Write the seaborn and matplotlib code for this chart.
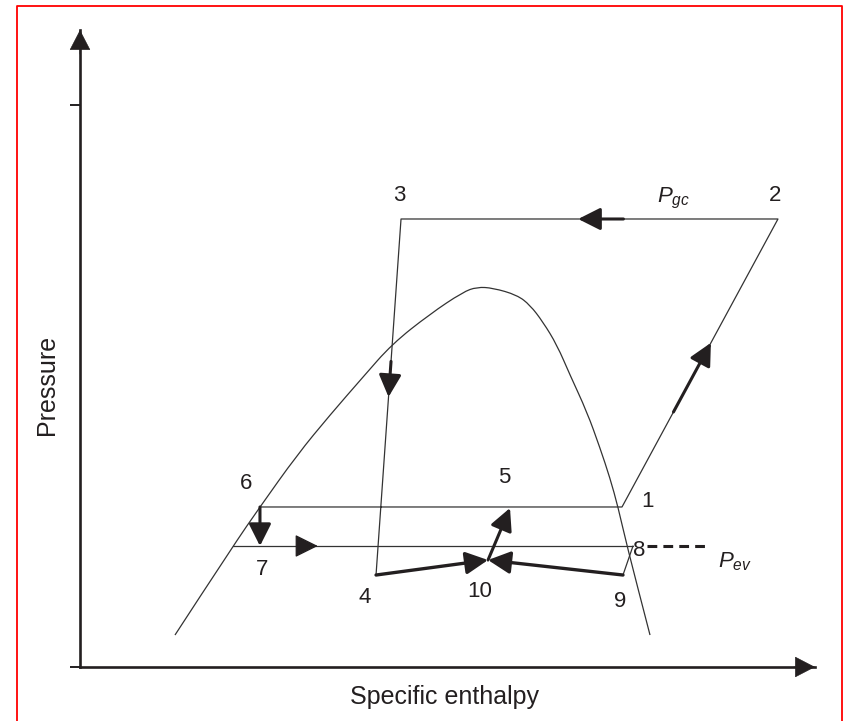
import numpy as np
import matplotlib
matplotlib.use("Agg")
import matplotlib.pyplot as plt
from matplotlib.lines import Line2D
from matplotlib.path import Path
from matplotlib.patches import PathPatch
import seaborn as sns

# ---- data: schematic transcritical CO2 cycle on a P-h chart (arbitrary units) ----
# saturation dome (liquid branch -> critical region -> vapour branch)
h_sat = [13.57, 21.86, 25.71, 31.0, 35.71, 40.43, 44.57, 50.0, 54.71, 56.71, 59.0,
         62.43, 64.29, 66.14, 68.14, 70.0, 72.43, 74.29, 75.71, 76.86, 78.14, 81.43]
P_sat = [5.33, 20.17, 26.67, 35.33, 42.0, 48.33, 53.83, 58.83, 62.5, 63.33, 63.17,
         62.0, 60.33, 57.5, 53.67, 48.67, 42.5, 36.5, 31.5, 26.67, 20.17, 5.33]

# cycle state points 1..10
state_labels = ["1", "2", "3", "4", "5", "6", "7", "8", "9", "10"]
state_h = [77.43, 99.71, 45.86, 42.29, 61.43, 25.71, 25.71, 79.0, 77.57, 58.29]
state_P = [26.67, 74.67, 74.67, 15.33, 26.5, 26.67, 20.17, 20.17, 15.33, 17.83]

# evaporator pressure line starts where it meets the liquid branch
h_ev_start = 21.86
h_ev_dash_end = 89.3

x_label = "Specific enthalpy"
y_label = "Pressure"

INK = "#231f20"
THIN = "#333333"

sns.set_theme(style="white")
plt.rcParams["font.family"] = ["Liberation Sans", "DejaVu Sans"]
plt.rcParams["mathtext.fontset"] = "custom"
plt.rcParams["mathtext.it"] = "Liberation Sans:italic"
plt.rcParams["mathtext.rm"] = "Liberation Sans"

W, H = 844, 721
fig = plt.figure(figsize=(W / 100, H / 100), dpi=100)
ax = fig.add_axes([80 / W, 54 / H, 735 / W, 637 / H])
XMAX, YMAX = 105.0, 106.17
ax.set_xlim(0, XMAX)
ax.set_ylim(0, YMAX)
ax.patch.set_alpha(0)

for side in ("top", "right"):
    ax.spines[side].set_visible(False)
for side in ("left", "bottom"):
    ax.spines[side].set_linewidth(1.9)
    ax.spines[side].set_color(INK)
ax.set_xticks([])
ax.set_yticks([0, 93.67])
ax.set_yticklabels([])
ax.tick_params(axis="y", direction="out", length=7.5, width=1.4, color=INK, left=True)

# axis arrowheads
head = dict(arrowstyle="-|>,head_length=1.35,head_width=0.7", color=INK, lw=0.5,
            shrinkA=0, shrinkB=0, mutation_scale=10)
ax.annotate("", xy=(0, YMAX), xytext=(0, YMAX - 4), arrowprops=head, annotation_clip=False)
ax.annotate("", xy=(XMAX, 0), xytext=(XMAX - 3, 0), arrowprops=head, annotation_clip=False)

S = {lab: (h, p) for lab, h, p in zip(state_labels, state_h, state_P)}

# saturation dome, drawn as a smooth quadratic path through the points
pts = np.column_stack([h_sat, P_sat])
verts = [pts[0]]
codes = [Path.MOVETO]
for i in range(1, len(pts) - 1):
    verts += [pts[i], (pts[i] + pts[i + 1]) / 2]
    codes += [Path.CURVE3, Path.CURVE3]
verts.append(pts[-1])
codes.append(Path.LINETO)
ax.add_patch(PathPatch(Path(verts, codes), fill=False, edgecolor=THIN, lw=0.9))

# thin cycle lines
path = ["6", "1", "2", "3", "4"]
sns.lineplot(x=[S[k][0] for k in path], y=[S[k][1] for k in path], sort=False,
             estimator=None, ax=ax, color=THIN, lw=0.9)
sns.lineplot(x=[h_ev_start, S["8"][0]], y=[S["7"][1], S["8"][1]], sort=False,
             estimator=None, ax=ax, color=THIN, lw=0.9)
sns.lineplot(x=[S["9"][0], S["8"][0]], y=[S["9"][1], S["8"][1]], sort=False,
             estimator=None, ax=ax, color=THIN, lw=0.9)
# evaporator pressure marker
ax.plot([S["8"][0] + 2.0, h_ev_dash_end], [S["8"][1], S["8"][1]], color=INK, lw=2.2,
        linestyle=(0, (3.2, 2.0)), solid_capstyle="butt", dash_capstyle="butt")


def flow_arrow(a, b, f0=0.0, f1=1.0, lw=2.2, hl=1.35, hw=0.68):
    """Thick arrow along segment a->b, between fractions f0 and f1."""
    a = np.asarray(a, float)
    b = np.asarray(b, float)
    p0 = a + (b - a) * f0
    p1 = a + (b - a) * f1
    ax.annotate("", xy=tuple(p1), xytext=tuple(p0),
                arrowprops=dict(arrowstyle=f"-|>,head_length={hl},head_width={hw}",
                                color=INK, lw=lw, shrinkA=0, shrinkB=0,
                                mutation_scale=10),
                annotation_clip=False)


flow_arrow(S["2"], S["3"], 0.41, 0.53)
flow_arrow(S["1"], S["2"], 0.33, 0.57)
flow_arrow(S["3"], S["4"], 0.40, 0.50)
flow_arrow(S["6"], S["7"])
flow_arrow(S["7"], S["8"], 0.10, 0.155, lw=0.9, hl=1.45, hw=0.72)
flow_arrow(S["10"], S["5"])
flow_arrow(S["4"], S["10"], lw=2.4)
flow_arrow(S["9"], S["10"], lw=2.4)

# state labels (offsets in points)
offsets = {"1": (18, 3.6), "2": (-2, 17), "3": (-1, 17), "4": (-8, -16), "5": (-4, 22),
           "6": (-10, 17), "7": (1.5, -17), "8": (4.5, -3.6), "9": (-2, -19),
           "10": (-6, -23)}
for lab in state_labels:
    ax.annotate(lab, xy=S[lab], xytext=offsets[lab], textcoords="offset points",
                ha="center", va="center", fontsize=16, color=INK, annotation_clip=False)

ax.text(82.43, 77.5, r"$P_{gc}$", fontsize=16, color=INK, ha="left", va="baseline")
ax.text(91.14, 16.67, r"$P_{ev}$", fontsize=16, color=INK, ha="left", va="baseline")

fig.text(47 / W, 1 - 385 / H, y_label, rotation=90, ha="center", va="center",
         fontsize=18, color=INK)
fig.text(444 / W, 1 - 697 / H, x_label, ha="center", va="center", fontsize=18, color=INK)

# red frame (open at the bottom)
fx = [17 / W, 17 / W, 842 / W, 842 / W]
fy = [0, 1 - 6 / H, 1 - 6 / H, 0]
fig.add_artist(Line2D(fx, fy, color="#ff0000", lw=1.3, transform=fig.transFigure))

fig.savefig("out.png", dpi=100)
